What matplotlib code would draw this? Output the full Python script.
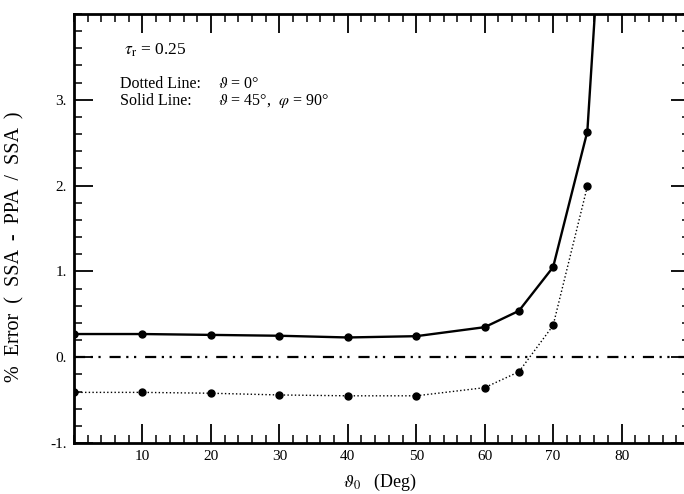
import matplotlib
matplotlib.use("Agg")
import matplotlib.pyplot as plt
from matplotlib.ticker import MultipleLocator, FixedLocator

plt.rcParams['font.family'] = ['Liberation Serif', 'DejaVu Serif']
plt.rcParams['mathtext.fontset'] = 'stix'

# solar zenith angle (deg)
theta0 = [0, 10, 20, 30, 40, 50, 60, 65, 70, 75, 80]
# solid line: theta = 45, phi = 90
err_solid = [0.27, 0.27, 0.26, 0.25, 0.23, 0.245, 0.35, 0.54, 1.05, 2.63, 8.9]
# dotted line: theta = 0
theta0_dot = [0, 10, 20, 30, 40, 50, 60, 65, 70, 75]
err_dotted = [-0.41, -0.41, -0.42, -0.44, -0.45, -0.45, -0.355, -0.17, 0.37, 1.99]

xticks = [10, 20, 30, 40, 50, 60, 70, 80]
yticks = [-1, 0, 1, 2, 3]

W, H = 684, 494
fig = plt.figure(figsize=(W / 100, H / 100), dpi=100)
ax = fig.add_axes([74 / W, 1 - 443 / H, 616 / W, 429 / H])

ax.plot(theta0, err_solid, '-', color='black', lw=1.7, marker='o', ms=5)
ax.plot(theta0_dot, err_dotted, ':', color='black', lw=1.0, marker='o', ms=5)
ax.axhline(0, color='black', lw=1.6, linestyle=(0, (5, 2.5, 1, 2.5, 1, 4)))

ax.set_xlim(0, 90)
ax.set_ylim(-1, 4)
ax.xaxis.set_major_locator(FixedLocator(xticks))
ax.xaxis.set_minor_locator(MultipleLocator(2))
ax.yaxis.set_major_locator(FixedLocator(yticks))
ax.yaxis.set_minor_locator(MultipleLocator(0.2))
ax.set_yticklabels(['%d.' % v for v in yticks])

ax.tick_params(which='both', direction='in', top=True, right=True, color='black')
ax.tick_params(which='major', length=14, width=1.3, labelsize=11, pad=5)
ax.tick_params(which='minor', length=5.5, width=1.1)
for s in ax.spines.values():
    s.set_linewidth(2)

# axis titles placed in figure pixels to match the scan
fig.text(380 / W, 1 - 482 / H, r'$\vartheta_0$   (Deg)', fontsize=13, ha='center', va='center')
fig.text(15 / W, 1 - 247 / H, '%  Error  (  SSA  -  PPA  /  SSA  )', fontsize=14.5,
         rotation=90, ha='center', va='center')

fig.text(124 / W, 1 - 50 / H, r'$\tau_\mathrm{r}$ = 0.25', fontsize=12.5, va='center')
fig.text(120 / W, 1 - 84 / H, 'Dotted Line:', fontsize=11.5, va='center')
fig.text(120 / W, 1 - 101 / H, 'Solid Line:', fontsize=11.5, va='center')
fig.text(218 / W, 1 - 84 / H, r'$\vartheta$ = 0°', fontsize=11.5, va='center')
fig.text(218 / W, 1 - 101 / H, r'$\vartheta$ = 45°,  $\varphi$ = 90°', fontsize=11.5, va='center')

fig.savefig('out.png', dpi=100)
